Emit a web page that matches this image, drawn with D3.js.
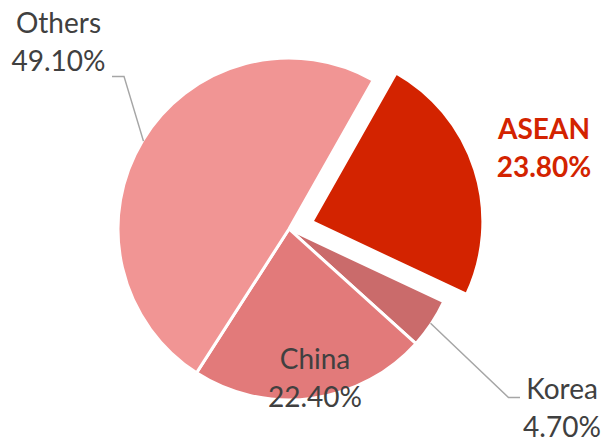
<!DOCTYPE html>
<html>
<head>
<meta charset="utf-8">
<script src="https://cdn.jsdelivr.net/npm/d3@7"></script>
<style>
  html, body { margin: 0; padding: 0; background: #ffffff; }
  svg { display: block; }
  text { font-family: Lato, "Liberation Sans", sans-serif; }
</style>
</head>
<body>
<svg id="chart" width="605" height="440"></svg>
<script>
// ---- data ----
const categories = ["ASEAN", "Korea", "China", "Others"];
const shares = [23.8, 4.7, 22.4, 49.1];
const valueLabels = ["23.80%", "4.70%", "22.40%", "49.10%"];
const sliceColors = ["#D32300", "#CA6B6B", "#E27A7A", "#F19594"];
const exploded = ["ASEAN"];

// ---- layout ----
const W = 605, H = 440;
const cx = 289, cy = 229, R = 171;
const startDeg = 29.5;
const explodeDist = 24;
const svg = d3.select("#chart");

const pie = d3.pie().sort(null).value(d => d.v)
  .startAngle(startDeg * Math.PI / 180)
  .endAngle((startDeg + 360) * Math.PI / 180);
const rows = categories.map((c, i) => ({ c, v: shares[i], lab: valueLabels[i], col: sliceColors[i] }));
const arcs = pie(rows);
const arc = d3.arc().innerRadius(0).outerRadius(R);

const g = svg.append("g").attr("transform", `translate(${cx},${cy})`);

function offset(d) {
  if (!exploded.includes(d.data.c)) return [0, 0];
  const m = (d.startAngle + d.endAngle) / 2;
  return [Math.sin(m) * explodeDist, -Math.cos(m) * explodeDist];
}

g.selectAll("path.slice").data(arcs).enter().append("path")
  .attr("class", "slice")
  .attr("d", arc)
  .attr("transform", d => { const o = offset(d); return `translate(${o[0]},${o[1]})`; })
  .attr("fill", d => d.data.col)
  .attr("stroke", "#ffffff")
  .attr("stroke-width", 3)
  .attr("stroke-linejoin", "miter");

// label placement (layout only)
const labelPos = {
  "ASEAN": { x: 544, y: 138.5, bold: true, color: "#D32300" },
  "Korea": { x: 562, y: 399, bold: false, color: "#404040" },
  "China": { x: 315, y: 368.5, bold: false, color: "#404040" },
  "Others": { x: 58.5, y: 32.5, bold: false, color: "#404040" }
};
const lineGap = 38.4;

// leader lines
function edgePoint(d) {
  const m = (d.startAngle + d.endAngle) / 2;
  return [cx + Math.sin(m) * (R - 1), cy - Math.cos(m) * (R - 1)];
}
const leaderColor = "#A6A6A6";
arcs.forEach(d => {
  const c = d.data.c;
  const p = edgePoint(d);
  if (c === "Others") {
    const ly = labelPos[c].y + lineGap + 5.5;
    svg.append("polyline")
      .attr("points", `${p[0]},${p[1]} 124,${ly} 112,${ly}`)
      .attr("fill", "none").attr("stroke", leaderColor).attr("stroke-width", 1.5);
  } else if (c === "Korea") {
    const ly = labelPos[c].y - 1.5;
    svg.append("polyline")
      .attr("points", `${p[0]},${p[1]} 508.5,${ly} 520,${ly}`)
      .attr("fill", "none").attr("stroke", leaderColor).attr("stroke-width", 1.5);
  }
});

// labels
arcs.forEach(d => {
  const lp = labelPos[d.data.c];
  const t = svg.append("text")
    .attr("text-anchor", "middle")
    .attr("font-size", 28)
    .attr("font-weight", lp.bold ? 700 : 400)
    .attr("fill", lp.color);
  t.append("tspan").attr("x", lp.x).attr("y", lp.y).text(d.data.c);
  t.append("tspan").attr("x", lp.x).attr("y", lp.y + lineGap).text(d.data.lab);
});
</script>
</body>
</html>
